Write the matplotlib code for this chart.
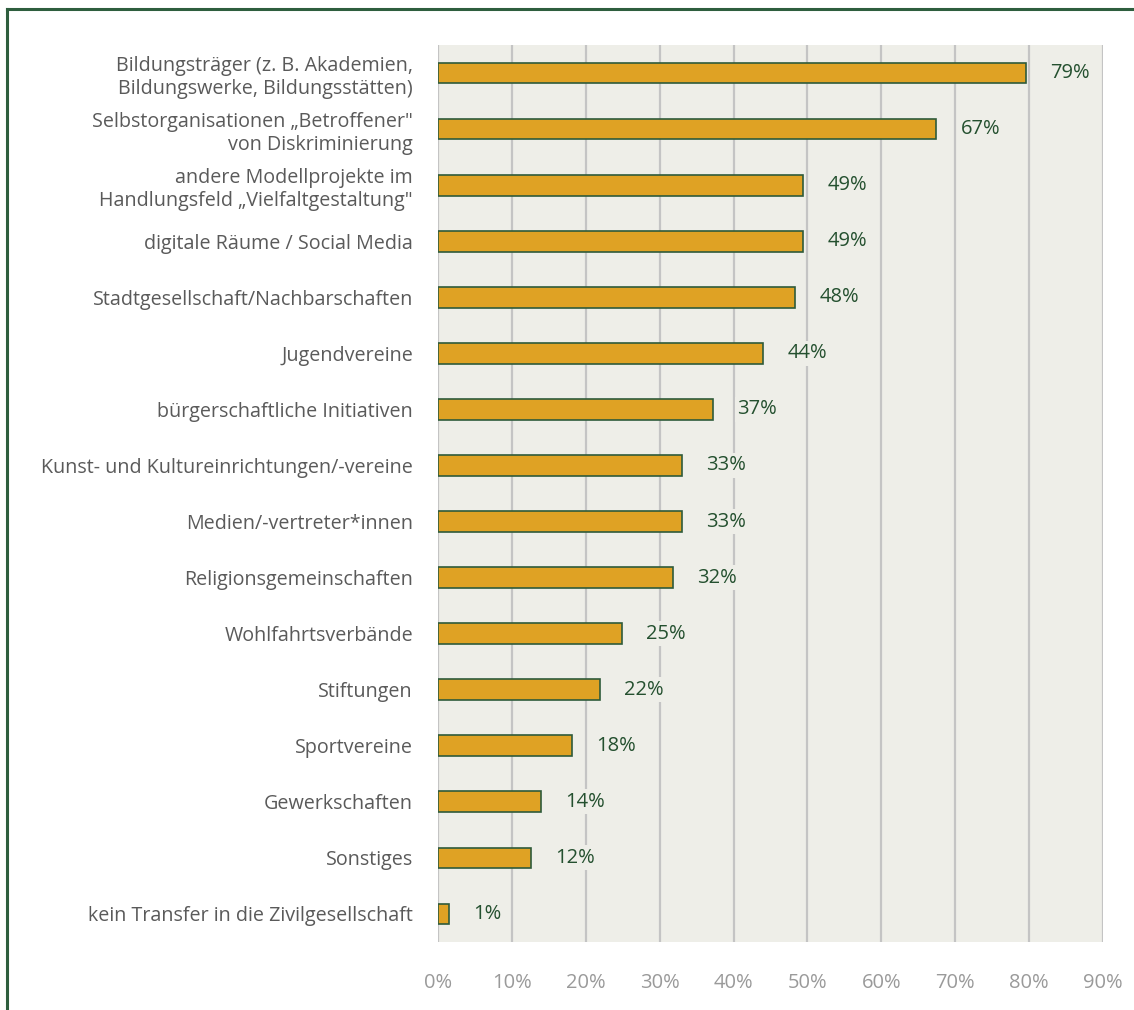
import matplotlib.pyplot as plt
from matplotlib.lines import Line2D

# Kategorien von oben nach unten
categories = [
    "Bildungsträger (z. B. Akademien,\nBildungswerke, Bildungsstätten)",
    "Selbstorganisationen \u201eBetroffener\"\nvon Diskriminierung",
    "andere Modellprojekte im\nHandlungsfeld \u201eVielfaltgestaltung\"",
    "digitale Räume / Social Media",
    "Stadtgesellschaft/Nachbarschaften",
    "Jugendvereine",
    "bürgerschaftliche Initiativen",
    "Kunst- und Kultureinrichtungen/-vereine",
    "Medien/-vertreter*innen",
    "Religionsgemeinschaften",
    "Wohlfahrtsverbände",
    "Stiftungen",
    "Sportvereine",
    "Gewerkschaften",
    "Sonstiges",
    "kein Transfer in die Zivilgesellschaft",
]
values = [79.6, 67.4, 49.4, 49.4, 48.3, 44.0, 37.2, 33.0, 33.0, 31.8, 24.9, 21.9, 18.1, 13.9, 12.6, 1.5]
value_labels = ["79%", "67%", "49%", "49%", "48%", "44%", "37%", "33%", "33%", "32%",
                "25%", "22%", "18%", "14%", "12%", "1%"]
xticks = [0, 10, 20, 30, 40, 50, 60, 70, 80, 90]
xtick_labels = ["0%", "10%", "20%", "30%", "40%", "50%", "60%", "70%", "80%", "90%"]

bg = "#EEEEE8"
green = "#24502F"

plt.rcParams["font.family"] = ["Open Sans", "DejaVu Sans"]

fig = plt.figure(figsize=(11.34, 10.1), dpi=100)
ax = fig.add_axes([438 / 1134, 1 - 942 / 1010, (1103 - 438) / 1134, (942 - 45) / 1010])
ax.set_facecolor(bg)

ypos = list(range(len(categories)))
ax.barh(ypos, values, height=0.37, color="#DFA224", edgecolor="#2F5B3A", linewidth=1.2, zorder=3)

for y, v, lab in zip(ypos, values, value_labels):
    ax.text(v + 3.3, y, lab, va="center", ha="left", fontsize=14.5, color=green, zorder=4,
            bbox=dict(boxstyle="square,pad=0.12", facecolor=bg, edgecolor="none"))

ax.set_xlim(0, 90)
ax.set_ylim(len(categories) - 0.5, -0.5)
ax.set_xticks(xticks)
ax.set_xticklabels(xtick_labels, fontsize=14.5, color="#9A9A9A")
ax.set_yticks(ypos)
ax.set_yticklabels(categories, fontsize=14.2, color="#5A5A5A", linespacing=1.2)
ax.tick_params(axis="x", length=0, pad=22)
ax.tick_params(axis="y", length=0, pad=18)
ax.grid(axis="x", color="#C4C4C4", linewidth=1.6, zorder=1)
ax.set_axisbelow(True)
for s in ax.spines.values():
    s.set_visible(False)

# grüner Rahmen
x0 = 7 / 1134
y0 = 1 - 9 / 1010
fig.add_artist(Line2D([x0, x0], [0, y0], color="#2E5E3E", linewidth=2.2))
fig.add_artist(Line2D([x0, 1], [y0, y0], color="#2E5E3E", linewidth=2.2))

fig.savefig("out.png", dpi=100)
